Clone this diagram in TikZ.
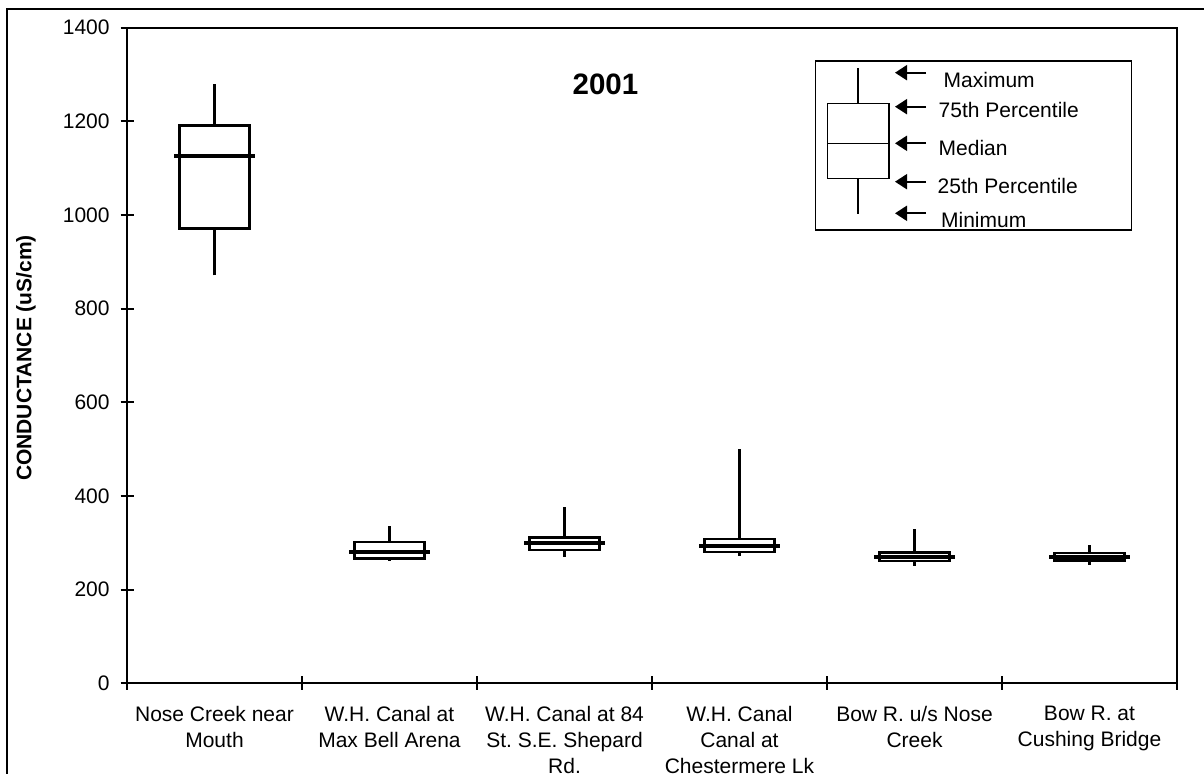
\documentclass[tikz,border=0pt]{standalone}
\usepackage{fontspec}
\setmainfont{Liberation Sans}
\frenchspacing
\usepackage{tikz}
\usetikzlibrary{arrows.meta}
\newcommand{\bxp}[6]{%
  \draw[whisk] (#1,#2) -- (#1,#6);
  \draw[qbox] ({#1-0.2},#3) rectangle ({#1+0.2},#5);
  \draw[medn] ({#1-0.23},#4) -- ({#1+0.23},#4);}
\tikzset{
  frame/.style ={draw=black, line width=1pt},
  tck/.style   ={draw=black, line width=1pt},
  whisk/.style ={draw=black, line width=1.2pt},
  qbox/.style  ={draw=black, fill=white, line width=1.25pt},
  medn/.style  ={draw=black, line width=2pt},
  legbox/.style={draw=black, line width=0.7pt},
  legln/.style ={draw=black, line width=0.7pt},
  legarr/.style={-{Triangle[length=6pt,width=7.5pt]}, draw=black,
                 line width=1pt},
  ylab/.style  ={anchor=east, inner sep=0pt,
                 font=\fontsize{10.5}{13}\selectfont},
  xlab/.style  ={anchor=north, inner sep=0pt, align=center,
                 font=\fontsize{10.5}{13}\selectfont},
  legtxt/.style={anchor=west, inner sep=0pt,
                 font=\fontsize{10.5}{13}\selectfont},
  ttl/.style   ={inner sep=0pt, font=\bfseries\fontsize{14.75}{17}\selectfont},
  axtl/.style  ={inner sep=0pt, rotate=90,
                 font=\bfseries\fontsize{10.5}{13}\selectfont}
}
\begin{document}
\begin{tikzpicture}[x=0.5pt, y=-0.5pt]
\useasboundingbox (0,0) rectangle (1204,774);
\clip (0,0) rectangle (1204,774);
\draw[frame] (7,9) rectangle (1230,800);

% plot area, in data units
\begin{scope}[shift={(63.5pt,-341.65pt)}, x=87.5pt, y=0.23415pt]
\draw[frame] (0,0) rectangle (6,1400);
\foreach \v in {0,200,...,1400}{
  \draw[tck] (0,\v) ++(-3.25pt,0) -- ++(6.5pt,0);
  \node[ylab] (yt\v) at (0,\v) [xshift=-8.5pt] {\v};}
\foreach \c in {0,...,6}
  \draw[tck] (\c,0) ++(0,3.5pt) -- ++(0,-7pt);

\bxp{0.5}{871}{971}{1127}{1191}{1279}
\bxp{1.5}{262}{267}{280}{302}{336}
\bxp{2.5}{270}{285}{300}{311}{376}
\bxp{3.5}{272}{280}{294}{308}{500}
\bxp{4.5}{251}{261}{270}{279}{330}
\bxp{5.5}{253}{262}{270}{278}{295}

\node[xlab] (c1) at (0.5,0) [yshift=-11.35pt] {Nose Creek near\\Mouth};
\node[xlab] (c2) at (1.5,0) [yshift=-11.35pt] {W.H. Canal at\\Max Bell Arena};
\node[xlab] (c3) at (2.5,0) [yshift=-11.35pt] {W.H. Canal at 84\\St. S.E. Shepard\\Rd.};
\node[xlab] (c4) at (3.5,0) [yshift=-11.35pt] {W.H. Canal\\Canal at\\Chestermere Lk};
\node[xlab] (c5) at (4.5,0) [yshift=-11.35pt] {Bow R. u/s Nose\\Creek};
\node[xlab] (c6) at (5.5,0) [yshift=-11.35pt] {Bow R. at\\Cushing Bridge};
\end{scope}

\node[ttl] (yr) at (605.5,84) {2001};
\node[axtl] (yax) at (26,358) {CONDUCTANCE (uS/cm)};

% legend
\draw[legbox] (815.7,61) rectangle (1131.7,230);
\draw[legln] (858,68.3) -- (858,214.3);
\draw[legln, fill=white] (827.3,103.7) rectangle (889,178.3);
\draw[legln] (827.3,143.3) -- (889,143.3);

\coordinate (pmax) at (895,72.7);  \coordinate (amax) at (926,72.7);
\coordinate (pq3)  at (895,106.7); \coordinate (aq3)  at (926,106.7);
\coordinate (pmed) at (895,143.3); \coordinate (amed) at (926,143.3);
\coordinate (pq1)  at (895,181.7); \coordinate (aq1)  at (926,181.7);
\coordinate (pmin) at (895,213.3); \coordinate (amin) at (926,213.3);
\draw[legarr] (amax) -- (pmax);
\draw[legarr] (aq3) -- (pq3);
\draw[legarr] (amed) -- (pmed);
\draw[legarr] (aq1) -- (pq1);
\draw[legarr] (amin) -- (pmin);

\node[legtxt] (lmax) at (943.3,80)  {Maximum};
\node[legtxt] (lq3)  at (938.3,110) {75th Percentile};
\node[legtxt] (lmed) at (938.3,148) {Median};
\node[legtxt] (lq1)  at (937.3,185.7) {25th Percentile};
\node[legtxt] (lmin) at (940.7,220) {Minimum};
\end{tikzpicture}
\end{document}
